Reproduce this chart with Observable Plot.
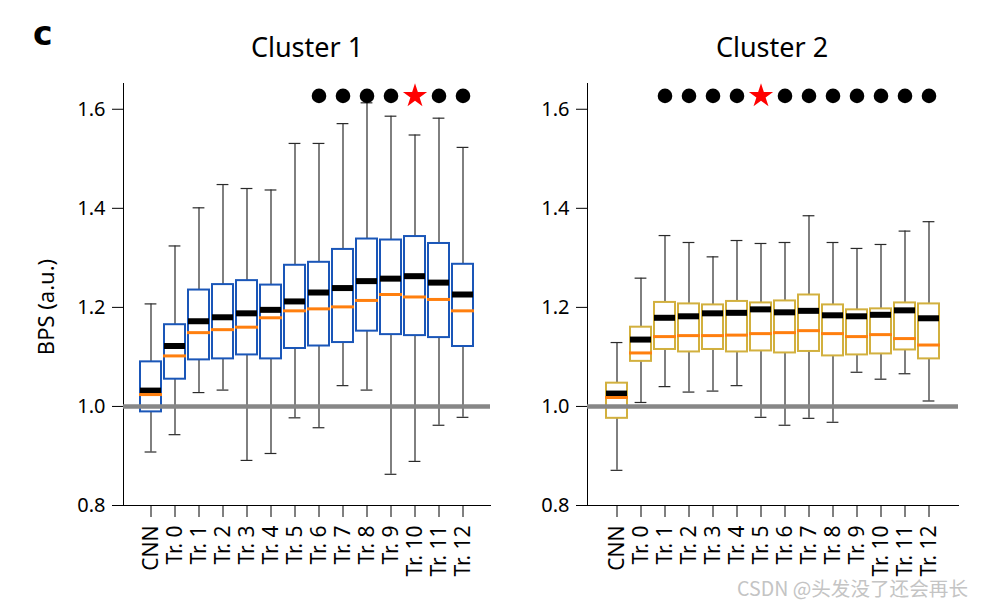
<!DOCTYPE html>
<html>
<head>
<meta charset="utf-8">
<script src="https://cdn.jsdelivr.net/npm/d3@7"></script>
<script src="https://cdn.jsdelivr.net/npm/@observablehq/plot@0.6"></script>
<style>
  html, body { margin: 0; padding: 0; background: #fff; }
  #root { position: relative; width: 984px; height: 602px; overflow: hidden; font-family: "Noto Sans", sans-serif; }
  .panel { position: absolute; top: 0; }
  .title { position: absolute; top: 28px; font-size: 27px; transform: translateX(-50%); white-space: nowrap; line-height: normal; }
  .ylab { position: absolute; left: 45px; top: 307px; font-size: 22px; transform: translate(-50%, -50%) rotate(-90deg); white-space: nowrap; }
  .letter { position: absolute; left: 33px; top: 14px; font-family: "DejaVu Sans", sans-serif; font-weight: 900; font-size: 33px; }
  .wm { position: absolute; left: 737px; top: 573px; font-family: "Noto Sans CJK SC", sans-serif; font-size: 19.6px; color: #c4c4c4; white-space: nowrap; }
  svg [aria-label^="x-axis"] text { font-size: 21px; }
</style>
</head>
<body>
<div id="root">
  <div class="letter">c</div>
  <div class="title" style="left:307px">Cluster 1</div>
  <div class="title" style="left:772px">Cluster 2</div>
  <div class="ylab">BPS (a.u.)</div>
  <div class="panel" id="p1" style="left:0px"></div>
  <div class="panel" id="p2" style="left:492px"></div>
  <div class="wm">CSDN @头发没了还会再长</div>
</div>
<script>
const categories = ["CNN","Tr. 0","Tr. 1","Tr. 2","Tr. 3","Tr. 4","Tr. 5","Tr. 6","Tr. 7","Tr. 8","Tr. 9","Tr. 10","Tr. 11","Tr. 12"];
const yTicks = [0.8, 1.0, 1.2, 1.4, 1.6];

// Cluster 1
const c1Q1     = [0.989, 1.055, 1.094, 1.096, 1.104, 1.096, 1.117, 1.122, 1.129, 1.152, 1.145, 1.143, 1.139, 1.121];
const c1Q3     = [1.090, 1.165, 1.235, 1.246, 1.254, 1.245, 1.285, 1.291, 1.317, 1.338, 1.336, 1.343, 1.329, 1.287];
const c1Mean   = [1.032, 1.122, 1.172, 1.180, 1.188, 1.195, 1.212, 1.230, 1.239, 1.253, 1.258, 1.263, 1.250, 1.226];
const c1Median = [1.024, 1.102, 1.149, 1.155, 1.160, 1.179, 1.193, 1.197, 1.201, 1.214, 1.226, 1.221, 1.216, 1.193];
const c1Low    = [0.908, 0.943, 1.028, 1.033, 0.891, 0.905, 0.977, 0.957, 1.042, 1.033, 0.863, 0.889, 0.962, 0.978];
const c1High   = [1.207, 1.324, 1.401, 1.448, 1.440, 1.437, 1.531, 1.531, 1.571, 1.613, 1.586, 1.548, 1.582, 1.523];
const c1Dots   = ["Tr. 6","Tr. 7","Tr. 8","Tr. 9","Tr. 11","Tr. 12"];
const c1Star   = ["Tr. 10"];

// Cluster 2
const c2Q1     = [0.976, 1.091, 1.115, 1.110, 1.115, 1.110, 1.112, 1.108, 1.111, 1.102, 1.104, 1.106, 1.114, 1.096];
const c2Q3     = [1.047, 1.160, 1.210, 1.207, 1.205, 1.212, 1.209, 1.213, 1.225, 1.205, 1.195, 1.197, 1.209, 1.207];
const c2Mean   = [1.026, 1.135, 1.179, 1.182, 1.188, 1.189, 1.196, 1.190, 1.193, 1.184, 1.182, 1.185, 1.194, 1.178];
const c2Median = [1.018, 1.108, 1.141, 1.143, 1.143, 1.144, 1.147, 1.149, 1.153, 1.147, 1.141, 1.145, 1.137, 1.124];
const c2Low    = [0.871, 1.008, 1.040, 1.029, 1.031, 1.042, 0.978, 0.962, 0.976, 0.968, 1.069, 1.055, 1.066, 1.011];
const c2High   = [1.129, 1.259, 1.345, 1.331, 1.302, 1.335, 1.329, 1.331, 1.385, 1.331, 1.319, 1.327, 1.354, 1.373];
const c2Dots   = ["Tr. 1","Tr. 2","Tr. 3","Tr. 4","Tr. 6","Tr. 7","Tr. 8","Tr. 9","Tr. 10","Tr. 11","Tr. 12"];
const c2Star   = ["Tr. 5"];

const markerLevel = 1.627;

function rows(q1, q3, mean, median, lo, hi) {
  return categories.map((c, i) => ({cat: c, q1: q1[i], q3: q3[i], mean: mean[i], median: median[i], lo: lo[i], hi: hi[i]}));
}

function panel(data, dots, star, boxColor, opts) {
  const whisk = "#2a2a2a";
  return Plot.plot({
    width: 492,
    height: 602,
    marginLeft: opts.marginLeft,
    marginRight: opts.marginRight,
    marginTop: 83,
    marginBottom: 97,
    style: {fontFamily: "'Noto Sans', sans-serif", fontSize: "20px", color: "#000", background: "transparent", overflow: "visible"},
    x: {domain: categories, paddingInner: 0.135, paddingOuter: opts.po, tickRotate: -90, tickSize: 12, tickPadding: 8, line: true, label: null},
    y: {domain: [0.8, 1.652], ticks: yTicks, tickFormat: d => d.toFixed(1), tickSize: 11, tickPadding: 7, line: true, label: null},
    marks: [
      Plot.ruleX(data, {x: "cat", y1: "q3", y2: "hi", stroke: whisk, strokeWidth: 1.2}),
      Plot.ruleX(data, {x: "cat", y1: "q1", y2: "lo", stroke: whisk, strokeWidth: 1.2}),
      Plot.tickY(data, {x: "cat", y: "hi", stroke: whisk, strokeWidth: 1.2, insetLeft: 4.6, insetRight: 4.6}),
      Plot.tickY(data, {x: "cat", y: "lo", stroke: whisk, strokeWidth: 1.2, insetLeft: 4.6, insetRight: 4.6}),
      Plot.rect(data, {x: "cat", y1: "q1", y2: "q3", fill: "none", stroke: boxColor, strokeWidth: 2}),
      Plot.ruleY([1.0], {stroke: "#878787", strokeWidth: 4.5}),
      Plot.tickY(data, {x: "cat", y: "mean", stroke: "#000", strokeWidth: 6}),
      Plot.tickY(data, {x: "cat", y: "median", stroke: "#ff7f0e", strokeWidth: 3, insetLeft: -1, insetRight: -1}),
      Plot.dot(dots, {x: d => d, y: () => markerLevel, r: 7.3, fill: "#000", stroke: "none"}),
      Plot.dot(star, {x: d => d, y: () => markerLevel, r: 7.6, symbol: "star", fill: "#ff0000", stroke: "none"})
    ]
  });
}

document.getElementById("p1").append(panel(rows(c1Q1, c1Q3, c1Mean, c1Median, c1Low, c1High), c1Dots, c1Star, "#1a56b8", {marginLeft: 123, marginRight: 2, po: 0.54}));
document.getElementById("p2").append(panel(rows(c2Q1, c2Q3, c2Mean, c2Median, c2Low, c2High), c2Dots, c2Star, "#d2b03e", {marginLeft: 95, marginRight: 26, po: 0.5875}));
</script>
</body>
</html>
